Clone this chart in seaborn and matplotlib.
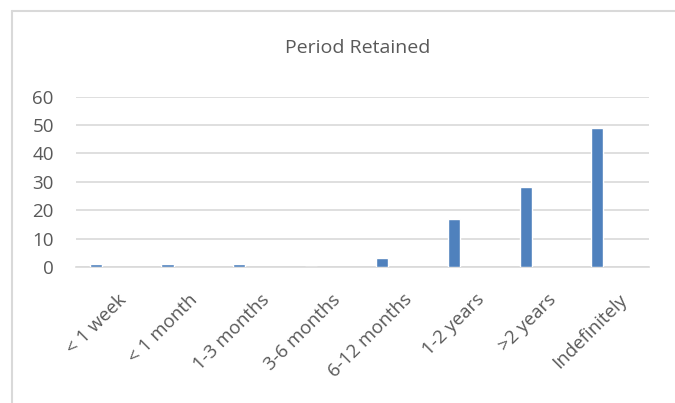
import matplotlib
matplotlib.use("Agg")
import matplotlib.pyplot as plt
import matplotlib.transforms as mtransforms
from matplotlib.lines import Line2D
import pandas as pd
import seaborn as sns

# Data
periods = ["< 1 week", "< 1 month", "1-3 months", "3-6 months",
           "6-12 months", "1-2 years", ">2 years", "Indefinitely"]
counts = [1, 1, 1, 0, 3, 17, 28, 49]
y_ticks = [0, 10, 20, 30, 40, 50, 60]

df = pd.DataFrame({"Period": periods, "Count": counts})

sns.set_style("white")
plt.rcParams["font.family"] = ["Open Sans", "DejaVu Sans"]

fig = plt.figure(figsize=(6.75, 4.03), dpi=100)
ax = fig.add_axes([76 / 675, 1 - 267 / 403, (649 - 76) / 675, (267 - 96.6) / 403])

sns.barplot(data=df, x="Period", y="Count", color="#4F81BD", width=0.17,
            saturation=1, ax=ax, zorder=3)

# bars sit left of the category centre (Excel cluster look)
shift = 0.223
ax.set_xlim(-0.5 + shift, len(periods) - 0.5 + shift)
ax.set_ylim(0, 60)
ax.set_yticks(y_ticks)
ax.yaxis.grid(True, color="#D9D9D9", linewidth=1.2, zorder=0)
ax.set_axisbelow(True)
for side in ["top", "right", "left"]:
    ax.spines[side].set_visible(False)
ax.spines["bottom"].set_color("#D9D9D9")
ax.spines["bottom"].set_linewidth(1.2)
ax.set_xlabel("")
ax.set_ylabel("")
ax.tick_params(axis="y", length=0, labelsize=13.5, colors="#595959", pad=16)
ax.tick_params(axis="x", length=0, labelsize=13.5, colors="#595959", pad=17)

offset = mtransforms.ScaledTranslation(21 / 100, 0, fig.dpi_scale_trans)
for lbl in ax.get_xticklabels():
    lbl.set_rotation(45)
    lbl.set_ha("right")
    lbl.set_va("top")
    lbl.set_rotation_mode("anchor")
    lbl.set_transform(lbl.get_transform() + offset)

fig.text(358 / 675, 1 - 48 / 403, "Period Retained", ha="center", va="center",
         fontsize=14, color="#595959")

# chart frame (cropped screenshot: only top and left edges visible)
fig.add_artist(Line2D([11.5 / 675, 1], [1 - 11 / 403] * 2, transform=fig.transFigure,
                      color="#D9D9D9", linewidth=1.5))
fig.add_artist(Line2D([11.5 / 675] * 2, [0, 1 - 11 / 403], transform=fig.transFigure,
                      color="#D9D9D9", linewidth=1.5))

fig.savefig("out.png", dpi=100)
